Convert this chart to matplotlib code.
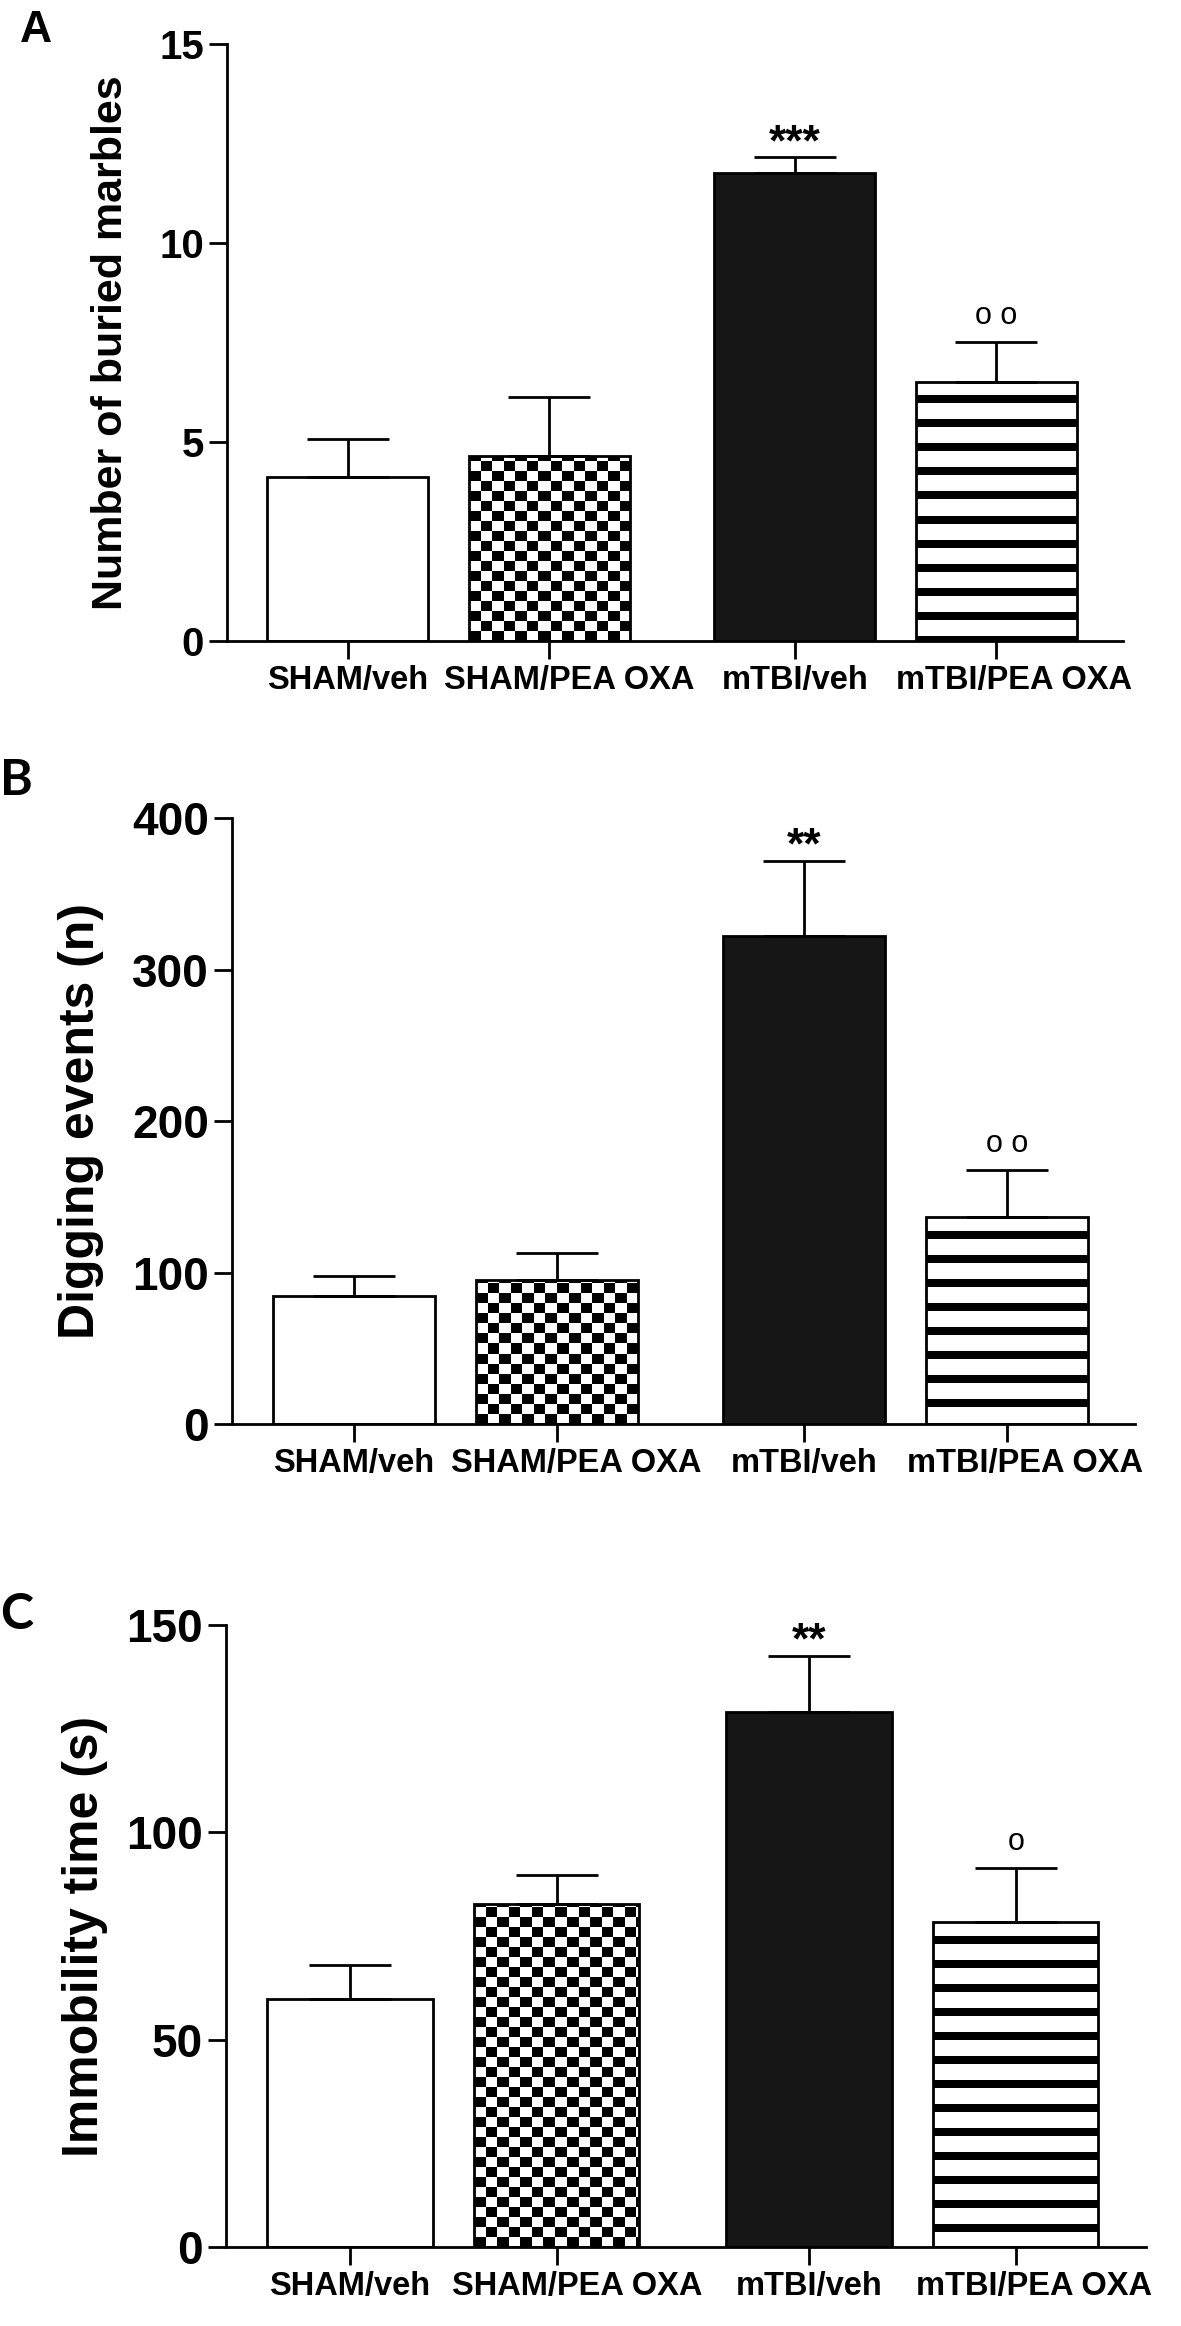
import numpy as np
import matplotlib
matplotlib.use('Agg')
import matplotlib.pyplot as plt
from matplotlib.transforms import ScaledTranslation

# groups and bar positions (gap between SHAM and mTBI pairs)
groups = ['SHAM/veh', 'SHAM/PEA OXA', 'mTBI/veh', 'mTBI/PEA OXA']
xpos = [0, 1, 2.22, 3.22]

# A - marble burying
marbles = [4.12, 4.64, 11.77, 6.52]
marbles_sem = [0.96, 1.48, 0.38, 0.98]
marbles_sig = ['', '', '***', 'o o']

# B - digging
digging = [84.5, 95.1, 322.4, 136.5]
digging_sem = [13.0, 17.5, 49.5, 31.0]
digging_sig = ['', '', '**', 'o o']

# C - immobility
immob = [59.8, 82.6, 128.9, 78.3]
immob_sem = [8.1, 7.2, 13.7, 13.1]
immob_sig = ['', '', '**', 'o']

# long labels sit a bit to the right of their tick (pixels)
label_shift = [0, 20, 0, 18]

W, H = 1181, 2326
plt.rcParams['font.family'] = ['Liberation Sans', 'DejaVu Sans']
plt.rcParams['font.weight'] = 'bold'
plt.rcParams['axes.linewidth'] = 2

fig = plt.figure(figsize=(W / 100, H / 100), dpi=100)


def px_box(l, r, t, b):
    return [l / W, 1 - b / H, (r - l) / W, (b - t) / H]


def fill_pattern(ax, bar, kind):
    x0 = bar.get_x()
    x1 = x0 + bar.get_width()
    h = bar.get_height()
    (px0, py0), (px1, py1) = ax.transData.transform([(x0, 0), (x1, h)])
    wpx = int(round(px1 - px0))
    hpx = int(round(py1 - py0))
    r = np.arange(hpx)[:, None]
    c = np.arange(wpx)[None, :]
    if kind == 'checker':
        rb = (hpx - 1 - r) // 10
        blk = ((rb + (c // 11.5).astype(int)) % 2) == 0
    else:
        blk = np.broadcast_to(((r - 14) % 24 < 8) & (r >= 14), (hpx, wpx))
    img = np.where(blk, 0.0, 1.0)
    im = ax.imshow(img, cmap='gray', vmin=0, vmax=1, extent=(x0, x1, 0, h),
                   origin='upper', aspect='auto', interpolation='nearest', zorder=2)
    im.set_clip_path(bar)


def panel(box, vals, sems, sig, ymax, yticks, ylabel, ytick_fs, ylab_fs, ylab_x):
    ax = fig.add_axes(px_box(*box))
    ax.set_xlim(-0.6, 3.85)
    ax.set_ylim(0, ymax)
    bars = ax.bar(xpos, vals, width=0.8, color=['white', 'white', '#161616', 'white'],
                  edgecolor='none', zorder=1)
    fill_pattern(ax, bars[1], 'checker')
    fill_pattern(ax, bars[3], 'stripes')
    ax.bar(xpos, vals, width=0.8, fill=False, edgecolor='black', linewidth=2, zorder=3)
    ax.errorbar(xpos, vals, yerr=[np.zeros(len(vals)), sems], fmt='none', ecolor='black',
                elinewidth=2, capsize=29.5, capthick=2, zorder=2.5)
    tops = np.add(vals, sems)
    for x, t, s in zip(xpos, tops, sig):
        if not s:
            continue
        if '*' in s:
            ax.annotate(s, (x, t), xytext=(0, 10), textcoords='offset points',
                        ha='center', va='center', fontsize=32, fontweight='bold')
        else:
            ax.annotate(s, (x, t), xytext=(0, 19), textcoords='offset points',
                        ha='center', va='center', fontsize=22, fontweight='normal')
    ax.spines['top'].set_visible(False)
    ax.spines['right'].set_visible(False)
    ax.set_yticks(yticks)
    ax.set_xticks(xpos, groups)
    ax.tick_params(axis='y', direction='out', length=13, width=2, pad=3.5, labelsize=ytick_fs)
    ax.tick_params(axis='x', direction='out', length=13, width=2, pad=4, labelsize=23.5)
    for lab, dx in zip(ax.get_xticklabels(), label_shift):
        lab.set_transform(lab.get_transform() + ScaledTranslation(dx / 100, 0, fig.dpi_scale_trans))
    mid = (box[2] + box[3]) / 2
    fig.text(ylab_x / W, 1 - mid / H, ylabel, rotation=90, ha='center', va='center',
             fontsize=ylab_fs, fontweight='bold')
    return ax


panel((227, 1123, 44, 641), marbles, marbles_sem, marbles_sig, 15, [0, 5, 10, 15],
      'Number of buried marbles', 29, 31, 111)
panel((232, 1135, 818, 1424), digging, digging_sem, digging_sig, 400, [0, 100, 200, 300, 400],
      'Digging events (n)', 33, 36, 81)
panel((226, 1146, 1625, 2247), immob, immob_sem, immob_sig, 150, [0, 50, 100, 150],
      'Immobility time (s)', 33, 36, 85)

fig.text(20 / W, 1 - 42 / H, 'A', ha='left', va='baseline', fontsize=32, fontweight='bold')
fig.text(0, 1 - 795 / H, 'B', ha='left', va='baseline', fontsize=36, fontweight='bold',
         family=['Lato', 'DejaVu Sans'])
fig.text(0, 1 - 1629 / H, 'C', ha='left', va='baseline', fontsize=36, fontweight='bold',
         family=['Lato', 'DejaVu Sans'])

fig.savefig('out.png', dpi=100, facecolor='white')
